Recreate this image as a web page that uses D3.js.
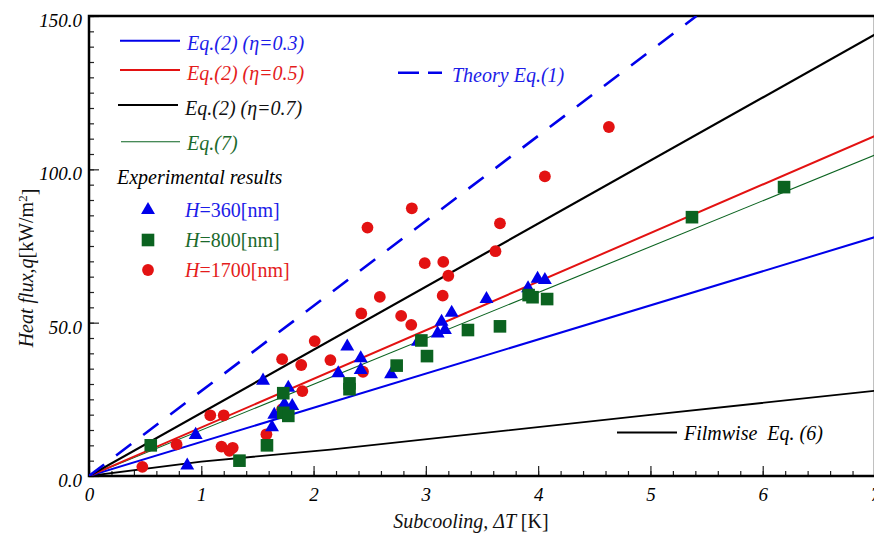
<html>
<head>
<script src="https://d3js.org/d3.v7.min.js"></script>
<style>
  body { margin: 0; background: white; }
  svg { display: block; }
  text { font-family: "Liberation Serif", "Times New Roman", serif; }
</style>
</head>
<body>
<svg id="chart" width="874" height="536"></svg>
<script>
// values
const xTicks = [0, 1, 2, 3, 4, 5, 6, 7];
const yTicks = [0, 50, 100, 150];
const yTickLabels = ["0.0", "50.0", "100.0", "150.0"];

// model curves, [dT, q]
const eta03 = [[0, 0], [7, 77.9]];
const eta05 = [[0, 0], [7, 110.9]];
const eta07 = [[0, 0], [7, 144.0]];
const eq7 = [[0, 0], [7, 104.7]];
const theory = [[0, 0], [5.41, 150]];
const filmwise = [[0, 0], [1, 4.7], [2.15, 8.6], [5, 19.9], [7, 27.8]];

// experiments
const h360 = [[0.875, 3.4], [0.95, 13.4], [1.55, 31.1], [1.63, 15.9], [1.65, 20.0], [1.74, 23.4],
  [1.775, 28.8], [1.81, 22.8], [2.22, 33.5], [2.30, 42.2], [2.42, 38.4], [2.42, 34.6], [2.69, 33.2],
  [2.93, 43.8], [3.105, 46.5], [3.14, 50.3], [3.17, 47.6], [3.23, 53.2], [3.54, 57.7], [3.91, 61.2],
  [3.995, 64.3], [4.06, 63.9]];
const h800 = [[0.55, 10.0], [1.34, 5.0], [1.585, 10.0], [1.73, 27.0], [1.73, 20.6], [1.775, 19.6],
  [2.32, 30.2], [2.32, 28.3], [2.74, 36.0], [2.96, 44.2], [3.01, 39.1], [3.375, 47.6], [3.66, 48.8],
  [3.915, 59.0], [3.95, 58.3], [4.08, 57.7], [5.37, 84.4], [6.19, 94.2]];
const h1700 = [[0.475, 3.0], [0.78, 10.3], [1.08, 19.8], [1.18, 9.6], [1.20, 19.8], [1.25, 8.2],
  [1.28, 9.2], [1.58, 13.6], [1.72, 21.8], [1.72, 38.1], [1.89, 36.2], [1.90, 27.7], [2.01, 44.0],
  [2.15, 37.8], [2.425, 53.0], [2.44, 34.0], [2.48, 81.0], [2.59, 58.4], [2.78, 52.2], [2.87, 49.3],
  [2.875, 87.3], [2.99, 69.4], [3.15, 58.8], [3.155, 69.8], [3.20, 65.3], [3.62, 73.3], [3.66, 82.4],
  [4.06, 97.7], [4.63, 113.8]];

const BLUE = "#0000ea", RED = "#e31212", GREEN = "#0b6320", BLACK = "#000";

const svg = d3.select("#chart");
const pl = 89, pt = 16, pb = 476, pr = 875;

const x = d3.scaleLinear().domain([0, 7]).range([pl, pr]);
const y = d3.scaleLinear().domain([0, 150]).range([pb, pt]);

svg.append("clipPath").attr("id", "plot")
  .append("rect").attr("x", pl).attr("y", pt).attr("width", pr - pl).attr("height", pb - pt);

// axes with inward ticks
const xMinor = d3.range(0, 7.001, 0.2);
svg.append("g").attr("transform", `translate(0,${pb})`)
  .call(d3.axisBottom(x).tickValues(xMinor).tickSize(-5).tickFormat(""))
  .call(g => g.select(".domain").remove());
svg.append("g").attr("transform", `translate(0,${pb})`)
  .call(d3.axisBottom(x).tickValues(xTicks).tickSize(-10).tickPadding(12).tickFormat(d3.format("d")))
  .call(g => g.select(".domain").remove())
  .selectAll("text").style("font-size", "19px").style("font-style", "italic").attr("fill", BLACK);

const yMinor = d3.range(0, 150.01, 5);
svg.append("g").attr("transform", `translate(${pl},0)`)
  .call(d3.axisLeft(y).tickValues(yMinor).tickSize(-5).tickFormat(""))
  .call(g => g.select(".domain").remove());
svg.append("g").attr("transform", `translate(${pl},0)`)
  .call(d3.axisLeft(y).tickValues(yTicks).tickSize(-10).tickPadding(7).tickFormat((d, i) => yTickLabels[i]))
  .call(g => g.select(".domain").remove())
  .selectAll("text").style("font-size", "19px").style("font-style", "italic").attr("dy", "0.55em").attr("fill", BLACK);

svg.selectAll(".tick line").attr("stroke", "#222").attr("stroke-width", 1.2);

// frame
svg.append("rect").attr("x", pl).attr("y", pt).attr("width", pr - pl).attr("height", pb - pt)
  .attr("fill", "none").attr("stroke", BLACK).attr("stroke-width", 2.5);

// curves
const line = d3.line().x(d => x(d[0])).y(d => y(d[1]));
const curves = svg.append("g").attr("clip-path", "url(#plot)");
const curveList = [
  [filmwise, BLACK, 1.8, null],
  [eq7, GREEN, 1.1, null],
  [eta03, BLUE, 2, null],
  [eta05, RED, 2, null],
  [eta07, BLACK, 2.2, null],
  [theory, BLUE, 2.6, "19,15"]
];
curveList.forEach(c => {
  curves.append("path").datum(c[0]).attr("d", line)
    .attr("fill", "none").attr("stroke", c[1]).attr("stroke-width", c[2])
    .attr("stroke-dasharray", c[3]);
});

// markers
const tri = d3.symbol(d3.symbolTriangle, 84);
const marks = svg.append("g");
marks.selectAll(".red").data(h1700).join("circle")
  .attr("cx", d => x(d[0])).attr("cy", d => y(d[1])).attr("r", 5.9).attr("fill", RED);
marks.selectAll(".blue").data(h360).join("path")
  .attr("d", tri).attr("transform", d => `translate(${x(d[0])},${y(d[1])})`).attr("fill", BLUE);
marks.selectAll(".green").data(h800).join("rect")
  .attr("x", d => x(d[0]) - 6.3).attr("y", d => y(d[1]) - 6.3).attr("width", 12.6).attr("height", 12.6).attr("fill", GREEN);

// legend
const lg = svg.append("g").style("font-size", "20px").style("font-style", "italic");
const legendLines = [
  {label: "Eq.(2) (\u03b7=0.3)", color: BLUE, text: "#1c1ce8", w: 2, x1: 120, x2: 180, ly: 40.7, ty: 50},
  {label: "Eq.(2) (\u03b7=0.5)", color: RED, text: "#e41c1c", w: 2, x1: 120, x2: 180, ly: 70, ty: 79.5},
  {label: "Eq.(2) (\u03b7=0.7)", color: BLACK, text: "#111", w: 2.2, x1: 118, x2: 178, ly: 105, ty: 115},
  {label: "Eq.(7)", color: GREEN, text: "#1c6a2c", w: 1.1, x1: 121, x2: 180, ly: 141.7, ty: 150}
];
legendLines.forEach(d => {
  lg.append("line").attr("x1", d.x1).attr("x2", d.x2).attr("y1", d.ly).attr("y2", d.ly)
    .attr("stroke", d.color).attr("stroke-width", d.w);
  lg.append("text").attr("x", d.x2 + 7).attr("y", d.ty).attr("fill", d.text).text(d.label);
});
lg.append("line").attr("x1", 398).attr("x2", 442).attr("y1", 72.7).attr("y2", 72.7)
  .attr("stroke", BLUE).attr("stroke-width", 2.6).attr("stroke-dasharray", "21,9");
lg.append("text").attr("x", 452).attr("y", 81.5).attr("fill", "#1c1ce8").text("Theory Eq.(1)");

lg.append("text").attr("x", 117).attr("y", 184).attr("fill", BLACK).text("Experimental results");

const legendMarks = [
  {shape: "tri", color: BLUE, text: "#1c1ce8", num: "360", cy: 210},
  {shape: "sq", color: GREEN, text: "#1c6a2c", num: "800", cy: 240},
  {shape: "circ", color: RED, text: "#e41c1c", num: "1700", cy: 270}
];
legendMarks.forEach(d => {
  if (d.shape === "tri") lg.append("path").attr("d", tri).attr("transform", `translate(148,${d.cy})`).attr("fill", d.color);
  if (d.shape === "sq") lg.append("rect").attr("x", 141.7).attr("y", d.cy - 6.3).attr("width", 12.6).attr("height", 12.6).attr("fill", d.color);
  if (d.shape === "circ") lg.append("circle").attr("cx", 148).attr("cy", d.cy).attr("r", 5.9).attr("fill", d.color);
  const t = lg.append("text").attr("x", 185).attr("y", d.cy + 6.5).attr("fill", d.text);
  t.append("tspan").text("H");
  t.append("tspan").style("font-style", "normal").text("=" + d.num + "[nm]");
});

lg.append("line").attr("x1", 617).attr("x2", 677).attr("y1", 432.4).attr("y2", 432.4)
  .attr("stroke", BLACK).attr("stroke-width", 2);
lg.append("text").attr("x", 684).attr("y", 439.5).attr("fill", BLACK)
  .attr("xml:space", "preserve").style("white-space", "pre").text("Filmwise  Eq. (6)");

// axis titles
const xt = svg.append("text").attr("x", 471).attr("y", 528).attr("text-anchor", "middle")
  .style("font-size", "20px").attr("fill", "#111");
xt.append("tspan").style("font-style", "italic").text("Subcooling, \u0394T ");
xt.append("tspan").text("[K]");

const yt = svg.append("text").attr("transform", "translate(33,268) rotate(-90)").attr("text-anchor", "middle")
  .style("font-size", "20px").attr("fill", "#111");
yt.append("tspan").style("font-style", "italic").text("Heat flux,q");
yt.append("tspan").text("[kW/m");
yt.append("tspan").attr("dy", "-0.45em").style("font-size", "13px").text("2");
yt.append("tspan").attr("dy", "0.45em").text("]");
</script>
</body>
</html>
